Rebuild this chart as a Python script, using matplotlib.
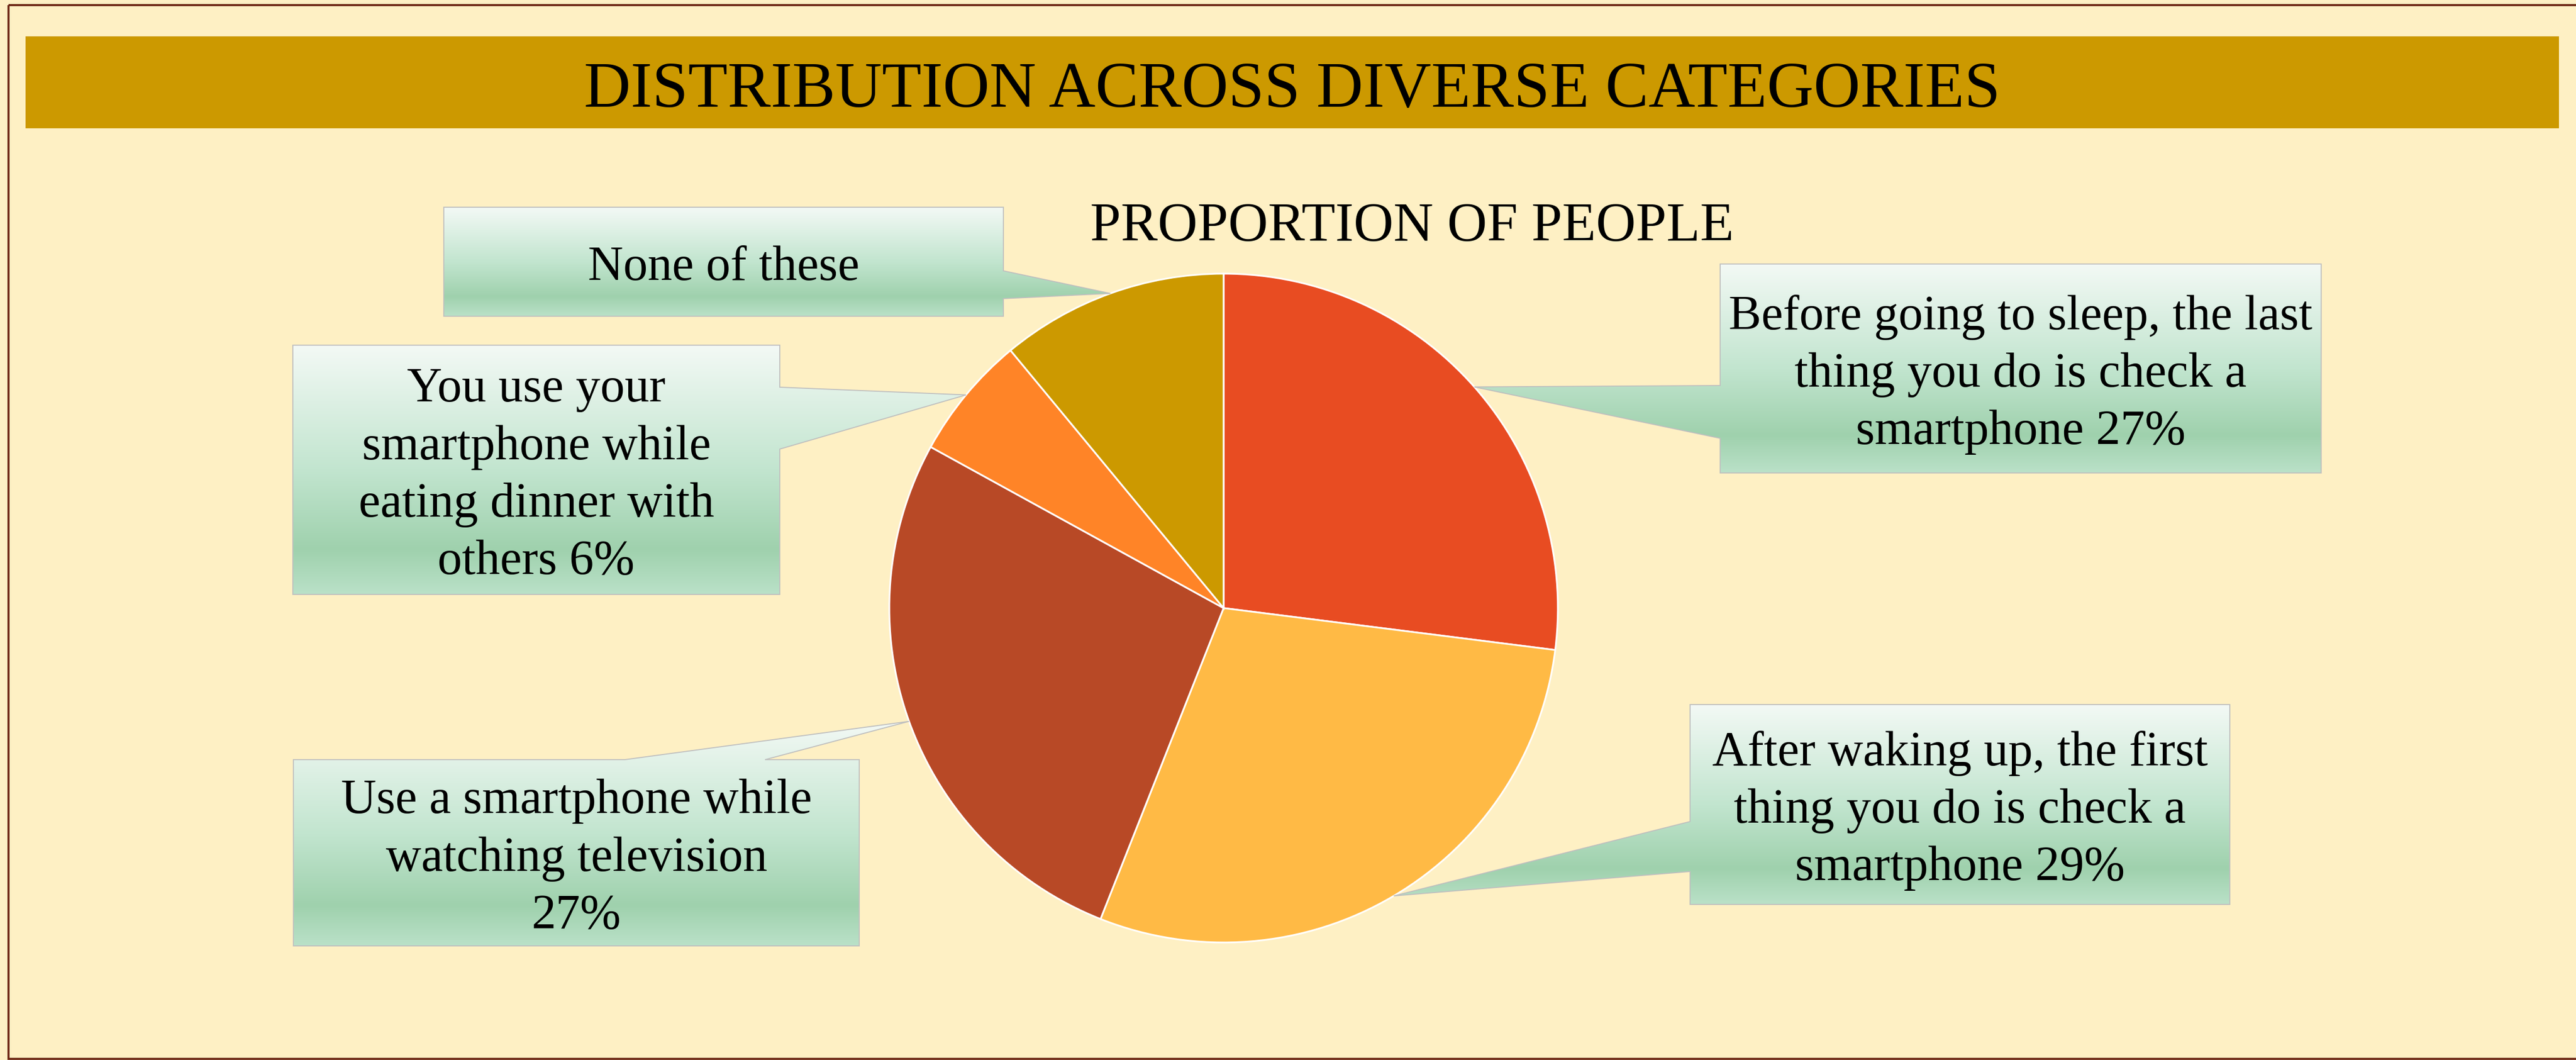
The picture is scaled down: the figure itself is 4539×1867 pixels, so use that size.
import matplotlib.pyplot as plt
import numpy as np
from matplotlib.colors import LinearSegmentedColormap
from matplotlib.patches import Polygon, Rectangle

W, H = 4539, 1867

title = "DISTRIBUTION ACROSS DIVERSE CATEGORIES"
subtitle = "PROPORTION OF PEOPLE"

labels = [
  "Before going to sleep, the last\nthing you do is check a\nsmartphone 27%",
  "After waking up, the first\nthing you do is check a\nsmartphone 29%",
  "Use a smartphone while\nwatching television\n27%",
  "You use your\nsmartphone while\neating dinner with\nothers 6%",
  "None of these",
]
shares = [27, 29, 27, 6, 11]
slice_colors = ["#E84C22", "#FFBA45", "#B84926", "#FF8427", "#CC9900"]

# callout layout in pixels: box (x0, y0, x1, y1), edge the pointer leaves from, pointer base span
callout_boxes = [(3031, 465, 4090, 833), (2978, 1241, 3929, 1593), (517, 1338, 1514, 1666),
                 (516, 608, 1374, 1047), (782, 365, 1768, 557)]
callout_sides = ["left", "left", "top", "right", "right"]
callout_bases = [(679, 772), (1447, 1535), (1101, 1348), (682, 791), (477, 526)]

BG = "#FEF0C4"
FONT = "Liberation Serif"

green = LinearSegmentedColormap.from_list(
  "callout", [(0, "#F3F9F5"), (0.5, "#C2E5CF"), (0.82, "#9FD1AD"), (1, "#BAE1C8")])


def callout(ax, box, side, base, tip, text):
  x0, y0, x1, y1 = box
  a, b = base
  if side == "left":
    pts = [(x0, y0), (x1, y0), (x1, y1), (x0, y1), (x0, b), tip, (x0, a)]
  elif side == "right":
    pts = [(x0, y0), (x1, y0), (x1, a), tip, (x1, b), (x1, y1), (x0, y1)]
  else:
    pts = [(x0, y0), (a, y0), tip, (b, y0), (x1, y0), (x1, y1), (x0, y1)]
  poly = Polygon(pts, closed=True, facecolor="none", edgecolor="#BFBFBF", lw=1.3, zorder=5)
  ax.add_patch(poly)
  xs = [p[0] for p in pts]
  ys = [p[1] for p in pts]
  grad = np.linspace(0, 1, 256).reshape(-1, 1)
  im = ax.imshow(grad, cmap=green, aspect="auto", origin="lower", interpolation="bilinear",
                 extent=(min(xs), max(xs), min(ys), max(ys)), zorder=4)
  im.set_clip_path(poly)
  ax.text((x0 + x1) / 2, (y0 + y1) / 2 + 11, text, ha="center", va="center", fontsize=62,
          family=FONT, linespacing=1.36, zorder=6)


fig = plt.figure(figsize=(W / 100, H / 100), dpi=100, facecolor=BG)
ax = fig.add_axes([0, 0, 1, 1])
ax.set_facecolor(BG)

# pie: y axis is flipped below, so start at -90 and go counterclockwise in data space
cx, cy, r = 2156, 1071, 589
wedges, _ = ax.pie(shares, colors=slice_colors, startangle=-90, counterclock=True,
                   center=(cx, cy), radius=r,
                   wedgeprops=dict(edgecolor="white", linewidth=2.2))
for w in wedges:
  w.set_zorder(2)

ax.set_autoscale_on(False)
ax.set_xlim(0, W)
ax.set_ylim(H, 0)
ax.axis("off")

for w, text, box, side, base in zip(wedges, labels, callout_boxes, callout_sides, callout_bases):
  mid = np.deg2rad((w.theta1 + w.theta2) / 2)
  tip = (cx + r * np.cos(mid), cy + r * np.sin(mid))
  callout(ax, box, side, base, tip, text)

# title band and frame
ax.add_patch(Rectangle((45, 64), 4464, 162, facecolor="#CC9900", edgecolor="none", zorder=1))
ax.text(2277, 188, title, ha="center", va="baseline", fontsize=82, family=FONT, zorder=6)
ax.text(2488, 424, subtitle, ha="center", va="baseline", fontsize=70, family=FONT, zorder=6)
ax.add_patch(Rectangle((15, 9.5), 4700, 1856, facecolor="none", edgecolor="#6B2412",
                       lw=2.6, zorder=7))

ax.set_aspect("auto")
fig.savefig("out.png", dpi=100, facecolor=BG)
